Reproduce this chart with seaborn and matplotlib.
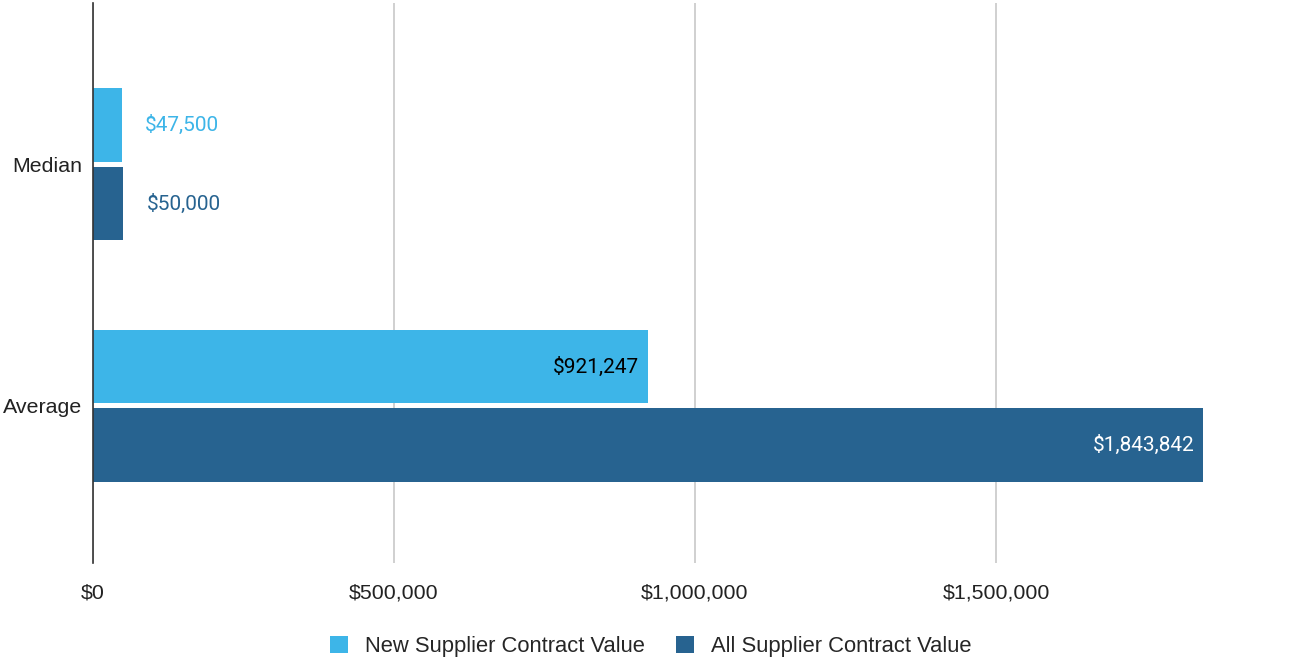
import matplotlib.pyplot as plt
import matplotlib.ticker as mticker
import pandas as pd
import seaborn as sns

# data
categories = ['Median', 'Average']
series = ['New Supplier Contract Value', 'All Supplier Contract Value']
new_values = [47500, 921247]
all_values = [50000, 1843842]
colors = ['#3db5e8', '#276390']

df = pd.DataFrame({
    'stat': categories * 2,
    'series': [series[0]] * 2 + [series[1]] * 2,
    'value': new_values + all_values,
})

sns.set_style('white')
plt.rcParams['font.family'] = ['Liberation Sans', 'DejaVu Sans']

fig = plt.figure(figsize=(12.99, 6.57), dpi=100)
ax = fig.add_axes([93 / 1299, 1 - 563 / 657, 1204 / 1299, 560 / 657])

sns.barplot(data=df, y='stat', x='value', hue='series', palette=colors,
            orient='h', width=0.65, linewidth=0, saturation=1, ax=ax)

# small gap between the two bars of a group
gap = 0.02
for cont in ax.containers:
    for bar in cont:
        bar.set_y(bar.get_y() + gap / 2)
        bar.set_height(bar.get_height() - gap)

ax.set_xlim(0, 2000000)
ax.set_ylim(1.652, -0.668)
ax.set_xticks([0, 500000, 1000000, 1500000])
ax.xaxis.set_major_formatter(mticker.FuncFormatter(lambda v, p: '${:,.0f}'.format(v)))
ax.grid(axis='x', color='#c8c8c8', linewidth=1.2)
ax.set_axisbelow(True)
for s in ['top', 'right', 'bottom']:
    ax.spines[s].set_visible(False)
ax.spines['left'].set_color('#333333')
ax.spines['left'].set_linewidth(1.2)
ax.spines['left'].set_zorder(5)
ax.tick_params(axis='both', length=0, labelsize=15.4, colors='#222222')
ax.tick_params(axis='x', pad=15)
ax.tick_params(axis='y', pad=8)
ax.set_xlabel('')
ax.set_ylabel('')

# value labels: outside for small bars, inside for the long ones
for i, cont in enumerate(ax.containers):
    for bar, val in zip(cont, cont.datavalues):
        txt = '${:,.0f}'.format(val)
        y = bar.get_y() + bar.get_height() / 2
        if val < 200000:
            ax.text(val + 39000, y, txt, va='center', ha='left', family='Roboto',
                    fontsize=15, color=colors[i])
        else:
            ax.text(val - 14000, y, txt, va='center', ha='right', family='Roboto',
                    fontsize=15, color='black' if i == 0 else 'white')

handles, labels = ax.get_legend_handles_labels()
ax.legend(handles, labels, loc='lower center', bbox_to_anchor=(0.463, -0.203),
          ncol=2, frameon=False, fontsize=15.8, handlelength=0.85,
          handleheight=0.85, handletextpad=0.75, columnspacing=1.4)

fig.savefig('out.png', dpi=100)
